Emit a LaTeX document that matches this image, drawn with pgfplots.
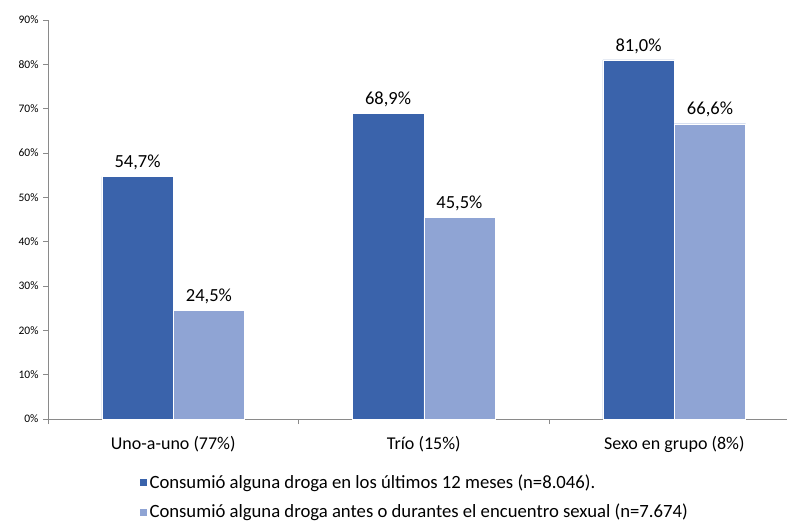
\documentclass[border=0pt]{standalone}
\usepackage{fontspec}
\setmainfont{Carlito}
\usepackage{pgfplots}
\pgfplotsset{compat=1.18}
\definecolor{serieA}{HTML}{3A63AB}
\definecolor{serieB}{HTML}{8FA4D4}
\definecolor{ejegris}{HTML}{8A8A8A}

\begin{document}
\begin{tikzpicture}[x=1pt,y=1pt]
\useasboundingbox (0,0) rectangle (787,523);
\begin{axis}[
  at={(48pt,104pt)}, anchor=south west,
  scale only axis, width=739pt, height=399pt,
  xmin=-0.5, xmax=2.45, ymin=0, ymax=90,
  axis lines*=left, axis line style={ejegris, line width=0.8pt, -},
  tick style={ejegris, line width=0.8pt},
  tick align=outside, major tick length=5pt,
  ytick={0,10,...,90},
  yticklabel={\pgfmathprintnumber{\tick}\%},
  /pgf/number format/assume math mode=true,
  yticklabel style={font=\fontsize{11.5}{13}\selectfont, text=black, xshift=-1pt},
  xtick={-0.5,0.5,1.5},
  xticklabels={},
  extra x ticks={0,1,2},
  extra x tick labels={Uno-a-uno (77\%), Trío (15\%), Sexo en grupo (8\%)},
  extra x tick style={major tick length=0pt,
    tick label style={font=\fontsize{18}{21}\selectfont, text=black, yshift=-14pt}},
  ybar=0pt, bar width=0.285,
  nodes near coords={\pgfmathprintnumber[fixed,fixed zerofill,precision=1,use comma]{\pgfplotspointmeta}\%},
  every node near coord/.append style={font=\fontsize{18.5}{21}\selectfont, text=black, yshift=3pt},
  legend style={draw=none, fill=none, at={(0.119,-0.130)}, anchor=north west,
    font=\fontsize{18.7}{21}\selectfont, row sep=10pt,
    legend cell align=left},
  legend image code/.code={\fill[#1] (0pt,-4pt) rectangle (8pt,4pt);},
  legend cell align=left,
]
\addplot[fill=serieA, draw=white, line width=0.4pt] coordinates {(0,54.7) (1,68.9) (2,81.0)};
\addplot[fill=serieB, draw=white, line width=0.4pt] coordinates {(0,24.5) (1,45.5) (2,66.6)};
\legend{Consumió alguna droga en los últimos 12 meses (n=8.046).,
        Consumió alguna droga antes o durantes el encuentro sexual (n=7.674)}
\end{axis}
\end{tikzpicture}
\end{document}
